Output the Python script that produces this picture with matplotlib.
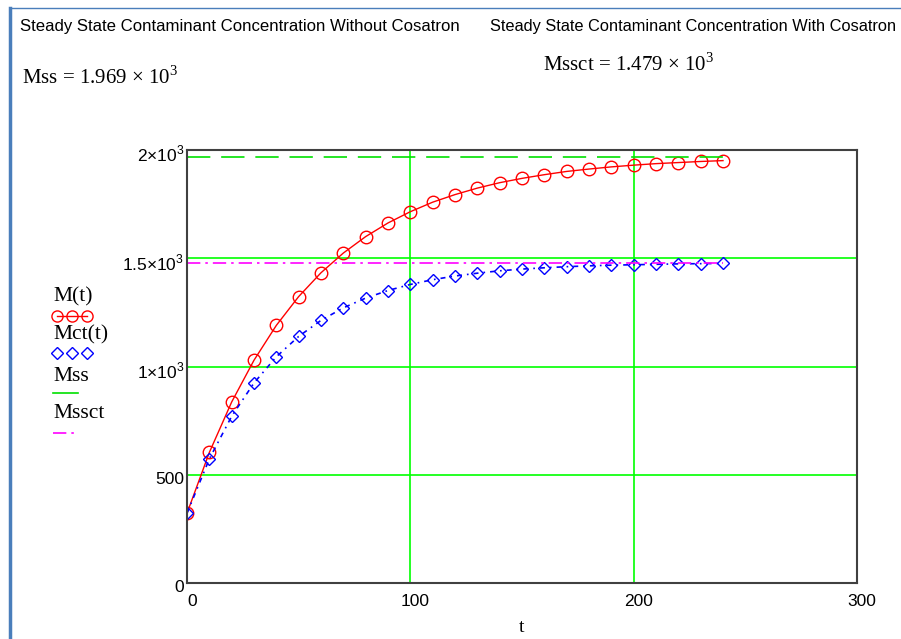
import numpy as np
import matplotlib
matplotlib.use("Agg")
import matplotlib.pyplot as plt
import matplotlib.transforms as mtransforms
from matplotlib.lines import Line2D

# time steps and values
t = [0, 10, 20, 30, 40, 50, 60, 70, 80, 90, 100, 110, 120,
     130, 140, 150, 160, 170, 180, 190, 200, 210, 220, 230, 240]
M = [322, 603, 836, 1029, 1190, 1323, 1433, 1524, 1600, 1663, 1715, 1759, 1794,
     1824, 1849, 1869, 1886, 1901, 1912, 1922, 1930, 1937, 1942, 1947, 1951]
Mct = [322, 573, 770, 924, 1045, 1139, 1213, 1271, 1316, 1351, 1379, 1401, 1418,
       1431, 1442, 1450, 1456, 1461, 1465, 1468, 1470, 1472, 1474, 1475, 1476]
Mss = 1969
Mssct = 1479

xticks = [0, 100, 200, 300]
yticks = [0, 500, 1000, 1500, 2000]
ytick_labels = ["0", "500", "1\u00d710$^{\\mathsf{3}}$", "1.5\u00d710$^{\\mathsf{3}}$",
                "2\u00d710$^{\\mathsf{3}}$"]

plt.rcParams["mathtext.fontset"] = "custom"
plt.rcParams["mathtext.rm"] = "Liberation Serif"
plt.rcParams["mathtext.sf"] = "Liberation Sans"

fig = plt.figure(figsize=(9.01, 6.39), dpi=100)

# blue worksheet frame lines on the left and top
fig.add_artist(Line2D([9.5 / 901, 9.5 / 901], [0, 1 - 8 / 639], color="#4a7ebb", lw=2.5))
fig.add_artist(Line2D([9.5 / 901, 1], [1 - 8 / 639, 1 - 8 / 639], color="#4a7ebb", lw=1.0))

# header texts
fig.text(20 / 901, 1 - 26 / 639, "Steady State Contaminant Concentration Without Cosatron",
         fontsize=12.1, family="Liberation Sans", va="center")
fig.text(490 / 901, 1 - 26 / 639, "Steady State Contaminant Concentration With Cosatron",
         fontsize=11.8, family="Liberation Sans", va="center")
fig.text(22 / 901, 1 - 78 / 639, "Mss = 1.969 \u00d7 10$^3$",
         fontsize=15, family="Liberation Serif", va="center")
fig.text(543 / 901, 1 - 65 / 639, "Mssct = 1.479 \u00d7 10$^3$",
         fontsize=15, family="Liberation Serif", va="center")

ax = fig.add_axes([187 / 901, 1 - 583 / 639, 670 / 901, 433 / 639])

ax.plot(t, M, color="red", lw=1, marker="o", markersize=9,
        markerfacecolor="none", markeredgecolor="red", markeredgewidth=1)
ax.plot(t, Mct, color="blue", lw=1.2, linestyle=(0, (3, 3, 1, 3)), marker="D", markersize=6.5,
        markerfacecolor="none", markeredgecolor="blue", markeredgewidth=1)
ax.plot([0, 240], [Mss, Mss], color="#00e000", lw=1.2, linestyle=(0, (14, 6.5)))
ax.plot([0, 240], [Mssct, Mssct], color="#ff00ff", lw=1.2, linestyle=(0, (8, 3, 1.5, 3)))

ax.set_xlim(0, 300)
ax.set_ylim(0, 2000)
ax.set_xticks(xticks)
ax.set_yticks(yticks)
ax.set_yticklabels(ytick_labels)
ax.grid(True, color="#00ff00", lw=1.2)
ax.set_axisbelow(True)
ax.tick_params(axis="x", length=0, labelsize=12.5, pad=8)
ax.tick_params(axis="y", length=0, labelsize=12.5, pad=2)
xshift = mtransforms.ScaledTranslation(5 / 100, 0, fig.dpi_scale_trans)
yshift = mtransforms.ScaledTranslation(0, -3 / 100, fig.dpi_scale_trans)
for lbl in ax.get_xticklabels():
    lbl.set_family("Liberation Sans")
    lbl.set_transform(lbl.get_transform() + xshift)
for lbl in ax.get_yticklabels():
    lbl.set_family("Liberation Sans")
    lbl.set_transform(lbl.get_transform() + yshift)
for s in ax.spines.values():
    s.set_color("#404040")
    s.set_linewidth(1.5)
ax.set_xlabel("t", fontsize=14, family="Liberation Serif", labelpad=7)

# legend on the left, Mathcad style
lx = 53 / 901
entries = [("M(t)", 297), ("Mct(t)", 335), ("Mss", 376), ("Mssct", 414)]
for name, ypix in entries:
    fig.text(lx, 1 - ypix / 639, name, fontsize=15.5, family="Liberation Serif", va="center")
fig.add_artist(Line2D([57 / 901, 87 / 901], [1 - 316 / 639] * 2, color="red", lw=1))
for xm in [57, 72, 87]:
    fig.add_artist(Line2D([xm / 901], [1 - 316 / 639], color="red", marker="o",
                          markersize=8, markerfacecolor="none", markeredgewidth=1))
    fig.add_artist(Line2D([xm / 901], [1 - 353 / 639], color="blue", marker="D",
                          markersize=6, markerfacecolor="none", markeredgewidth=1))
fig.add_artist(Line2D([53 / 901, 78 / 901], [1 - 393 / 639] * 2, color="#00e000", lw=1.2))
fig.add_artist(Line2D([53 / 901, 78 / 901], [1 - 433 / 639] * 2, color="#ff00ff", lw=1.2,
                      linestyle=(0, (8, 3, 1.5, 3))))

fig.savefig("out.png", dpi=100)
